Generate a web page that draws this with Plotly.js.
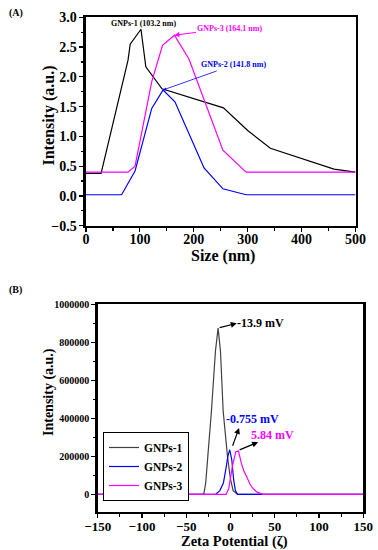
<!DOCTYPE html>
<html><head><meta charset="utf-8">
<script src="https://cdn.plot.ly/plotly-3.0.1.min.js"></script>
<style>html,body{margin:0;padding:0;background:#fff;}#chart{width:378px;height:550px;}</style>
</head><body><div id="chart"></div>
<script>
// Panel A: DLS size distribution
const sizeG1 = [0, 28, 78, 82, 102, 111, 141, 255, 300, 342, 460, 500];
const intG1  = [0.38, 0.38, 2.28, 2.55, 2.8, 2.17, 1.8, 1.48, 1.1, 0.8, 0.45, 0.4];
const sizeG2 = [0, 66, 91, 122, 143, 165, 219, 254, 297, 500];
const intG2  = [0.02, 0.02, 0.42, 1.47, 1.78, 1.58, 0.47, 0.12, 0.02, 0.02];
const sizeG3 = [0, 78, 91, 122, 142, 164, 191, 254, 297, 500];
const intG3  = [0.4, 0.4, 0.5, 1.92, 2.53, 2.7, 2.3, 0.77, 0.4, 0.4];

// Panel B: zeta potential
const zetaG1 = [-150, -32, -30, -28, -25.6, -21.5, -17, -14, -11.3, -8.3, -3.4, 0, 3, 8, 150];
const zIntG1 = [0, 0, 5000, 60000, 200000, 440000, 753000, 875000, 753000, 440000, 200000, 80000, 20000, 0, 0];
const zetaG2 = [-150, -17, -12, -8, -5, -3, -0.8, 1.5, 3.5, 5.5, 8, 150];
const zIntG2 = [0, 0, 20000, 60000, 140000, 200000, 235000, 180000, 80000, 20000, 0, 0];
const zetaG3 = [-150, -5, -2, 2, 6, 9, 12.4, 15, 18, 22, 25.5, 30, 37, 150];
const zIntG3 = [0, 0, 30000, 144000, 225000, 228000, 162000, 125000, 96000, 55000, 31000, 12000, 0, 0];

const names = ['GNPs-1', 'GNPs-2', 'GNPs-3'];
const colA = ['#000000', '#0000ff', '#ff00ff'];
const colB = ['#404040', '#0000ff', '#ff00ff'];

const FF = '"Liberation Serif", "Times New Roman", serif';
const bold = (s, c) => ({family: FF, size: s, color: c || '#000', weight: 'bold'});

const traces = [
  {x: sizeG1, y: intG1, xaxis: 'x', yaxis: 'y', mode: 'lines', line: {color: colA[0], width: 1.2}, showlegend: false},
  {x: sizeG2, y: intG2, xaxis: 'x', yaxis: 'y', mode: 'lines', line: {color: colA[1], width: 1.2}, showlegend: false},
  {x: sizeG3, y: intG3, xaxis: 'x', yaxis: 'y', mode: 'lines', line: {color: colA[2], width: 1.2}, showlegend: false},
  {x: zetaG1, y: zIntG1, xaxis: 'x2', yaxis: 'y2', mode: 'lines', name: names[0], line: {color: colB[0], width: 1.2}},
  {x: zetaG2, y: zIntG2, xaxis: 'x2', yaxis: 'y2', mode: 'lines', name: names[1], line: {color: colB[1], width: 1.2}},
  {x: zetaG3, y: zIntG3, xaxis: 'x2', yaxis: 'y2', mode: 'lines', name: names[2], line: {color: colB[2], width: 1.2}}
];

const axBase = {
  showgrid: false, zeroline: false, showline: true, linecolor: '#000', linewidth: 2.5, mirror: true,
  ticks: 'outside', ticklen: 4, tickwidth: 1.2, tickcolor: '#000'
};

const P = (px) => px / 378;          // paper x from pixel
const Q = (py) => 1 - py / 550;      // paper y from pixel

const layout = {
  width: 378, height: 550,
  margin: {l: 0, r: 0, t: 0, b: 0},
  paper_bgcolor: '#fff', plot_bgcolor: '#fff',
  showlegend: true,
  legend: {x: P(103), y: Q(432), xanchor: 'left', yanchor: 'top', bordercolor: '#000', borderwidth: 1,
           bgcolor: '#fff', font: bold(11.5), itemwidth: 30, tracegroupgap: 0},
  xaxis: Object.assign({}, axBase, {domain: [0.2275, 0.9405], anchor: 'y', range: [0, 500], dtick: 100,
    minor: {dtick: 50, ticks: 'outside', ticklen: 2.5, tickcolor: '#000'}, tickfont: bold(14), ticklabelstandoff: -5}),
  yaxis: Object.assign({}, axBase, {domain: [0.5896, 0.9685], anchor: 'x', range: [-0.5, 3.0], dtick: 0.5, tickformat: '.1f',
    minor: {dtick: 0.25, ticks: 'outside', ticklen: 2.5, tickcolor: '#000'}, tickfont: bold(14)}),
  xaxis2: Object.assign({}, axBase, {domain: [0.2585, 0.961], anchor: 'y2', range: [-150, 150], dtick: 50,
    minor: {dtick: 25, ticks: 'outside', ticklen: 2.5, tickcolor: '#000'}, tickfont: bold(13), ticklabelstandoff: -3}),
  yaxis2: Object.assign({}, axBase, {domain: [0.0696, 0.4467], anchor: 'x2', range: [-91000, 1000000], dtick: 200000,
    tickformat: 'd', minor: {dtick: 100000, ticks: 'outside', ticklen: 2.5, tickcolor: '#000'}, tickfont: bold(10)}),
  annotations: [
    {xref: 'paper', yref: 'paper', x: P(7), y: Q(12.7), xanchor: 'left', yanchor: 'middle', text: '(A)', showarrow: false, font: bold(10)},
    {xref: 'paper', yref: 'paper', x: P(7), y: Q(290), xanchor: 'left', yanchor: 'middle', text: '(B)', showarrow: false, font: bold(10)},
    // axis titles
    {xref: 'paper', yref: 'paper', x: P(223), y: Q(256), xanchor: 'center', yanchor: 'middle', text: 'Size (nm)', showarrow: false, font: bold(16)},
    {xref: 'paper', yref: 'paper', x: P(48.5), y: Q(116), xanchor: 'center', yanchor: 'middle', text: 'Intensity (a.u.)', textangle: -90, showarrow: false, font: bold(16)},
    {xref: 'paper', yref: 'paper', x: P(234), y: Q(541.5), xanchor: 'center', yanchor: 'middle', text: 'Zeta Potential (ζ)', showarrow: false, font: bold(14.5)},
    {xref: 'paper', yref: 'paper', x: P(49), y: Q(392), xanchor: 'center', yanchor: 'middle', text: 'Intensity (a.u.)', textangle: -90, showarrow: false, font: bold(14)},
    // Panel A labels
    {xref: 'x', yref: 'y', x: 107, y: 2.9, text: 'GNPs-1 (103.2 nm)', showarrow: false, font: bold(8)},
    {xref: 'x', yref: 'y', x: 164, y: 2.7, ax: 267, ay: 2.82, axref: 'x', ayref: 'y', text: 'GNPs-3 (164.1 nm)',
      showarrow: true, arrowhead: 2, arrowsize: 1, arrowwidth: 1, arrowcolor: '#ff00ff', font: bold(8, '#ff00ff')},
    {xref: 'x', yref: 'y', x: 143, y: 1.78, ax: 274, ay: 2.2, axref: 'x', ayref: 'y', text: 'GNPs-2 (141.8 nm)',
      showarrow: true, arrowhead: 2, arrowsize: 0.8, arrowwidth: 0.8, arrowcolor: '#0000ff', font: bold(8, '#0000ff')},
    // Panel B labels
    {xref: 'x2', yref: 'y2', x: 34.2, y: 901000, text: '-13.9 mV', showarrow: false, font: bold(12)},
    {xref: 'x2', yref: 'y2', x: 24.9, y: 397000, text: '-0.755 mV', showarrow: false, font: bold(12, '#0000ff')},
    {xref: 'x2', yref: 'y2', x: 46.9, y: 313000, text: '5.84 mV', showarrow: false, font: bold(12, '#ff00ff')},
    // Panel B arrows (tail at peak, head at label)
    {xref: 'x2', yref: 'y2', x: 7.1, y: 900000, ax: -14, ay: 875000, axref: 'x2', ayref: 'y2', text: '',
      showarrow: true, arrowhead: 2, arrowsize: 1, arrowwidth: 1.2, arrowcolor: '#000'},
    {xref: 'x2', yref: 'y2', x: 9.7, y: 350000, ax: 1.8, ay: 248000, axref: 'x2', ayref: 'y2', text: '',
      showarrow: true, arrowhead: 2, arrowsize: 1, arrowwidth: 1.2, arrowcolor: '#000'},
    {xref: 'x2', yref: 'y2', x: 31.2, y: 275000, ax: 8.6, ay: 231000, axref: 'x2', ayref: 'y2', text: '',
      showarrow: true, arrowhead: 2, arrowsize: 1, arrowwidth: 1.2, arrowcolor: '#000'}
  ]
};

Plotly.newPlot('chart', traces, layout, {staticPlot: true, displayModeBar: false});
</script>
</body></html>
